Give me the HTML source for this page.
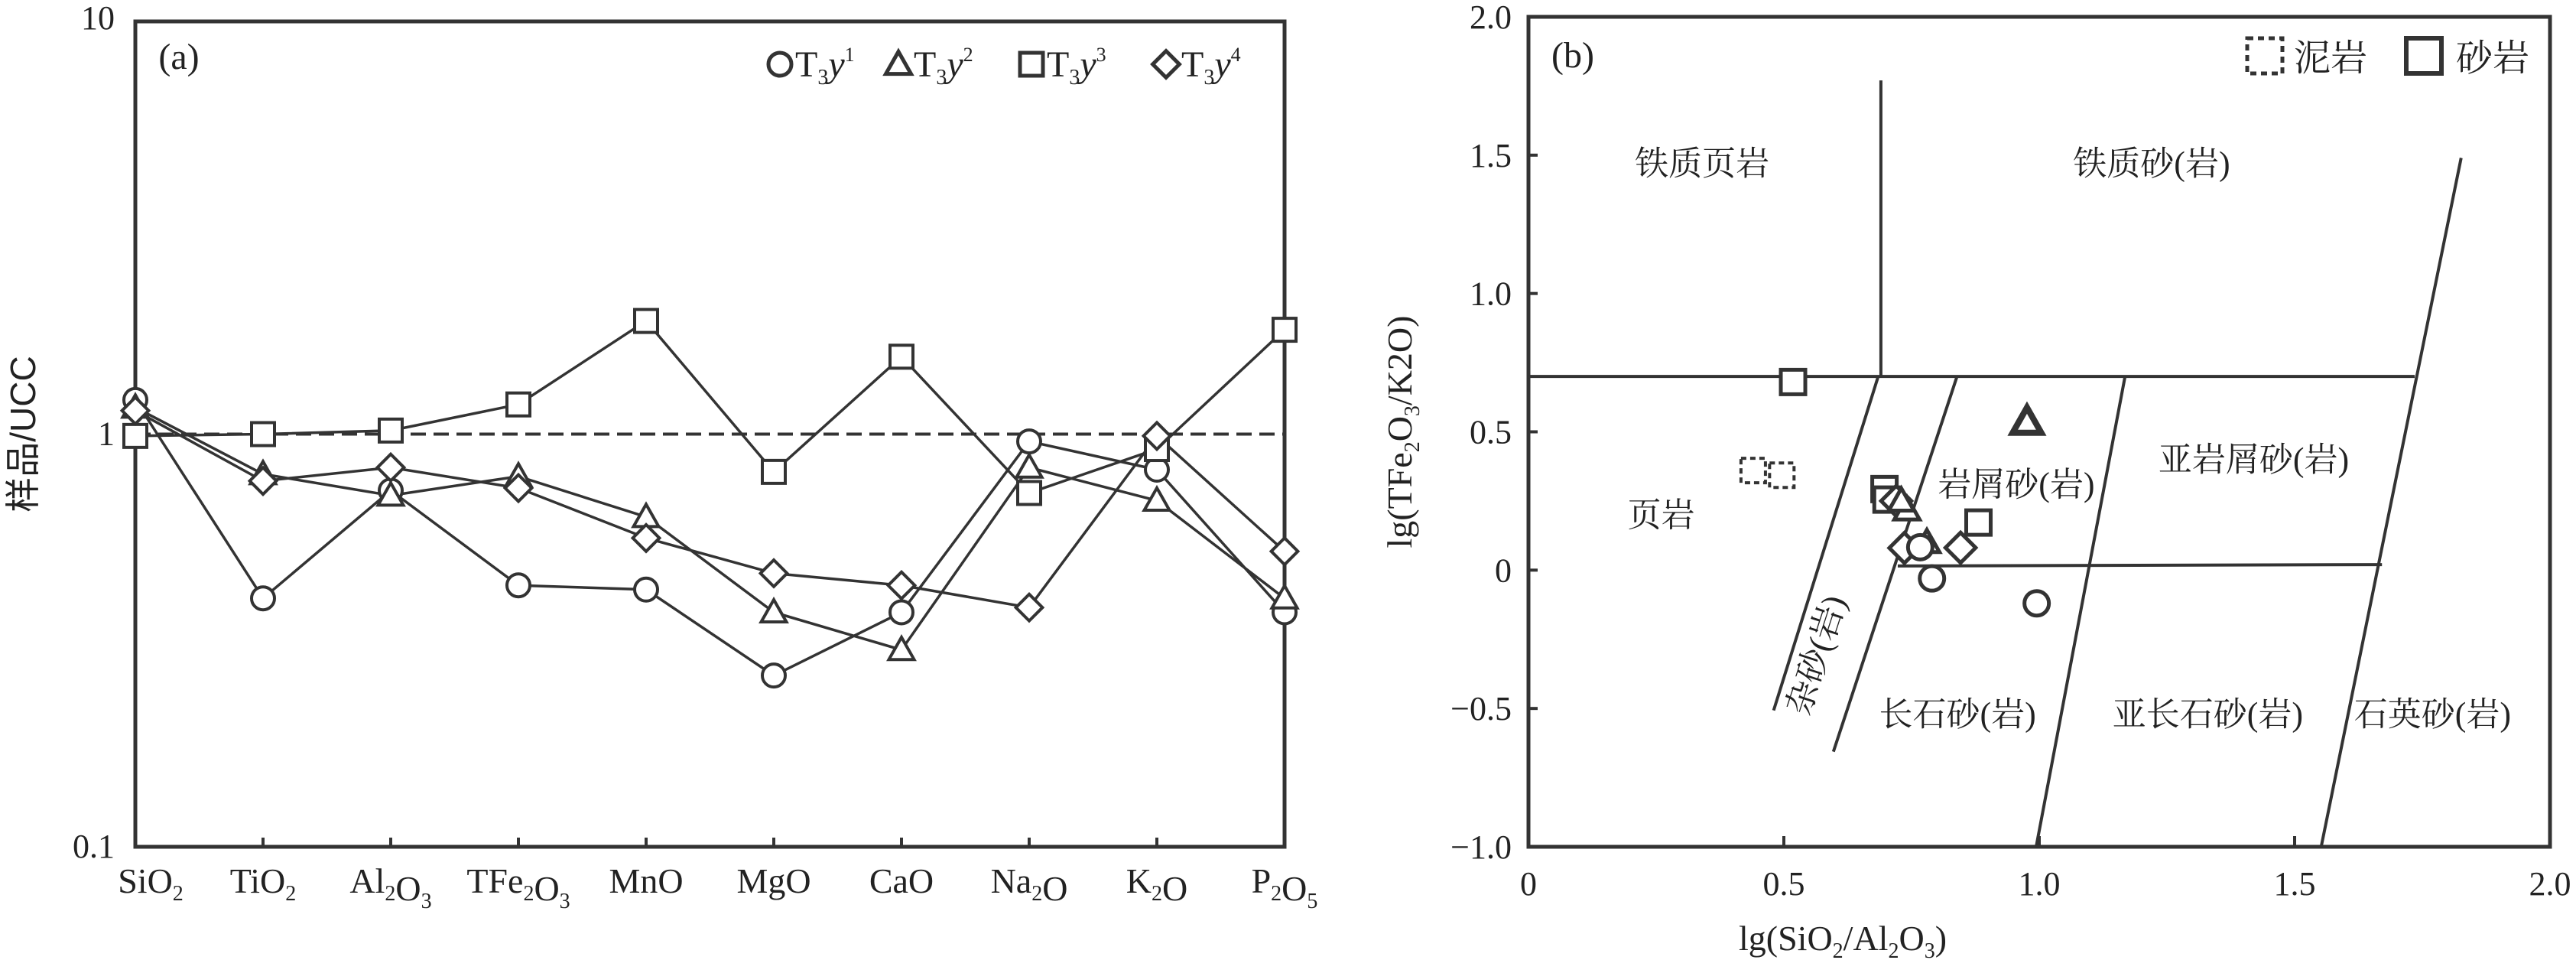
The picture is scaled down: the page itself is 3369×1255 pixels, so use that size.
<!DOCTYPE html>
<html><head><meta charset="utf-8"><style>
html,body{margin:0;padding:0;background:#fff;}
svg{display:block;font-family:"Liberation Serif","Noto Serif CJK SC",serif;}
</style></head><body>
<svg id="svg" width="3369" height="1255" viewBox="0 0 3369 1255" xmlns="http://www.w3.org/2000/svg">
<g id="pa"></g>
<g id="pb"></g>
</svg>
<script>
// ---------- Panel (a) data ----------
const categoriesA = ["SiO2","TiO2","Al2O3","TFe2O3","MnO","MgO","CaO","Na2O","K2O","P2O5"];
const seriesT3y1 = [1.21,0.40,0.73,0.43,0.42,0.26,0.37,0.96,0.82,0.37];
const seriesT3y2 = [1.16,0.80,0.71,0.79,0.63,0.37,0.30,0.83,0.69,0.40];
const seriesT3y3 = [0.99,1.00,1.02,1.18,1.88,0.81,1.54,0.72,0.92,1.79];
const seriesT3y4 = [1.14,0.77,0.83,0.74,0.56,0.46,0.43,0.38,0.99,0.52];
const yTicksA = [10,1,0.1];
const yTickLabelsA = ["10","1","0.1"];

// ---------- Panel (b) data ----------
const xTicksB = [0,0.5,1.0,1.5,2.0];
const xTickLabelsB = ["0","0.5","1.0","1.5","2.0"];
const yTicksB = [2.0,1.5,1.0,0.5,0,-0.5,-1.0];
const yTickLabelsB = ["2.0","1.5","1.0","0.5","0","\u22120.5","\u22121.0"];
const mudX = [0.44,0.496];
const mudY = [0.36,0.343];
const sqX = [0.518,0.697,0.701,0.881];
const sqY = [0.68,0.293,0.255,0.172];
const triX = [0.976,0.741,0.73,0.78];
const triY = [0.536,0.218,0.25,0.10];
const cirX = [0.767,0.79,0.995];
const cirY = [0.083,-0.03,-0.12];
const diaX = [0.736,0.846,0.72];
const diaY = [0.08,0.081,0.25];

const NS="http://www.w3.org/2000/svg";
const C="#333";
function mk(tag,attrs,parent){const e=document.createElementNS(NS,tag);for(const k in attrs)e.setAttribute(k,attrs[k]);parent.appendChild(e);return e;}
function marker(g,type,x,y,s,sw,dash){
  let e;
  if(type==="circle") e=mk("circle",{cx:x,cy:y,r:s*0.5,fill:"#fff",stroke:C,"stroke-width":sw},g);
  else if(type==="square") e=mk("rect",{x:x-s/2,y:y-s/2,width:s,height:s,fill:"#fff",stroke:C,"stroke-width":sw},g);
  else if(type==="triangle") e=mk("polygon",{points:`${x},${y-s*0.55} ${x-s*0.55},${y+s*0.42} ${x+s*0.55},${y+s*0.42}`,fill:"#fff",stroke:C,"stroke-width":sw},g);
  else e=mk("polygon",{points:`${x},${y-s*0.58} ${x+s*0.58},${y} ${x},${y+s*0.58} ${x-s*0.58},${y}`,fill:"#fff",stroke:C,"stroke-width":sw},g);
  if(dash) e.setAttribute("stroke-dasharray",dash);
  return e;
}
function txt(g,x,y,str,size,anchor,extra){const t=mk("text",Object.assign({x:x,y:y,"font-size":size,"text-anchor":anchor||"middle",fill:"#222"},extra||{}),g);t.innerHTML=str;return t;}

// ===== Panel A =====
const pa=document.getElementById("pa");
const AL=177,AR=1680,AT=28,AB=1107;
function xA(i){return AL+(AR-AL)*i/(categoriesA.length-1);}
function yA(v){return AT+(AB-AT)*(1-Math.log10(v))/2;}
const fA=mk("rect",{x:AL,y:AT,width:AR-AL,height:AB-AT,fill:"none",stroke:C,"stroke-width":5},pa);


yTicksA.forEach((v,i)=>{
  const t=txt(pa,AL-27,yA(v)+(i===0?10:14),yTickLabelsA[i],44,"end");
  
  
});
categoriesA.forEach((c,i)=>{
  const tk=mk("line",{x1:xA(i),y1:AB,x2:xA(i),y2:AB-12,stroke:C,"stroke-width":4},pa);
  
  
  const lab=c.replace(/(\d)/g,'<tspan font-size="28" dy="10">$1</tspan><tspan dy="-10"></tspan>');
  const t=txt(pa,xA(i)+(i===0?20:0),1167,lab,46,"middle");
  
  
});
const yt=txt(pa,0,0,"样品/UCC",46,"middle",{transform:`translate(46,${(AT+AB)/2}) rotate(-90)`,"font-family":"Liberation Sans,Noto Sans CJK SC,sans-serif"});


const la=txt(pa,234,90,"(a)",48,"middle");


const ref=mk("line",{x1:AL,y1:yA(1),x2:AR,y2:yA(1),stroke:C,"stroke-width":4,"stroke-dasharray":"20 10"},pa);


const seriesA=[["circle",seriesT3y1,"T3y1"],["triangle",seriesT3y2,"T3y2"],["square",seriesT3y3,"T3y3"],["diamond",seriesT3y4,"T3y4"]];
seriesA.forEach(([type,vals,name])=>{
  const pl=mk("polyline",{points:vals.map((v,i)=>xA(i)+","+yA(v)).join(" "),fill:"none",stroke:C,"stroke-width":3.5},pa);
  
  
});
seriesA.forEach(([type,vals,name])=>{
  vals.forEach((v,i)=>{
    const m=marker(pa,type,xA(i),yA(v),30,4);
    
    
  });
});
const legX=[1020,1175,1349,1525];
seriesA.forEach(([type,vals,name],k)=>{
  const m=marker(pa,type,legX[k],84,30,5);
  
  
  const t=txt(pa,legX[k]+20,100,`T<tspan font-size="28" dy="10">3</tspan><tspan dy="-10" font-style="italic">y</tspan><tspan font-size="26" dy="-20">${name[3]}</tspan>`,48,"start");
  
  
});

// ===== Panel B =====
const pb=document.getElementById("pb");
const BL=1999,BR=3335,BT=22,BB=1107;
function xB(v){return BL+(BR-BL)*v/2;}
function yB(v){return BT+(BB-BT)*(2-v)/3;}
const fB=mk("rect",{x:BL,y:BT,width:BR-BL,height:BB-BT,fill:"none",stroke:C,"stroke-width":5},pb);


xTicksB.forEach((v,i)=>{
  const tk=mk("line",{x1:xB(v),y1:BB,x2:xB(v),y2:BB-14,stroke:C,"stroke-width":4},pb);
  
  
  const t=txt(pb,xB(v),1170,xTickLabelsB[i],44,"middle");
  
  
});
yTicksB.forEach((v,i)=>{
  const tk=mk("line",{x1:BL,y1:yB(v),x2:BL+12,y2:yB(v),stroke:C,"stroke-width":4},pb);
  
  
  const t=txt(pb,BL-22,yB(v)+15,yTickLabelsB[i],44,"end");
  
  
});
const xtb=txt(pb,2410,1242,'lg(SiO<tspan font-size="28" dy="10">2</tspan><tspan dy="-10">/Al</tspan><tspan font-size="28" dy="10">2</tspan><tspan dy="-10">O</tspan><tspan font-size="28" dy="10">3</tspan><tspan dy="-10">)</tspan>',46,"middle");


const ytb=txt(pb,0,0,'lg(TFe<tspan font-size="28" dy="10">2</tspan><tspan dy="-10">O</tspan><tspan font-size="28" dy="10">3</tspan><tspan dy="-10">/K2O)</tspan>',46,"middle",{transform:`translate(1846,${(BT+BB)/2}) rotate(-90)`});


const lb=txt(pb,2057,88,"(b)",48,"middle");


// field boundaries (data coords)
const bx1=[0.69,0,0.48,0.597,0.994,1.552,0.723];
const by1=[1.77,0.7,-0.507,-0.656,-1.0,-1.0,0.015];
const bx2=[0.69,1.735,0.684,0.839,1.168,1.826,1.671];
const by2=[0.7,0.7,0.696,0.70,0.70,1.49,0.02];
bx1.forEach((v,i)=>{
  const l=mk("line",{x1:xB(v),y1:yB(by1[i]),x2:xB(bx2[i]),y2:yB(by2[i]),stroke:C,"stroke-width":4},pb);
  
  
});
const fields=[["铁质页岩",0.34,1.47],["铁质砂(岩)",1.22,1.47],["页岩",0.26,0.2],["岩屑砂(岩)",0.955,0.31],["亚岩屑砂(岩)",1.42,0.4],["长石砂(岩)",0.84,-0.52],["亚长石砂(岩)",1.33,-0.52],["石英砂(岩)",1.77,-0.52]];
fields.forEach(([s,x,y])=>{
  const t=txt(pb,xB(x),yB(y)+15,s,44,"middle");
  
  
});
const rz=txt(pb,0,0,"杂砂(岩)",44,"middle",{transform:`translate(${xB(0.585)},${yB(-0.32)}) rotate(-72)`});


mudX.forEach((v,i)=>{const m=marker(pb,"square",xB(v),yB(mudY[i]),32,4,"7 5");});
sqX.forEach((v,i)=>{const m=marker(pb,"square",xB(v),yB(sqY[i]),32,5);});
diaX.forEach((v,i)=>{const m=marker(pb,"diamond",xB(v),yB(diaY[i]),34,5);});
triX.forEach((v,i)=>{const m=marker(pb,"triangle",xB(v),yB(triY[i]),i===0?34:30,i===0?8:5);});
cirX.forEach((v,i)=>{const m=marker(pb,"circle",xB(v),yB(cirY[i]),32,5);});
const lm1=marker(pb,"square",2962,73,46,5,"8 6");


const lt1=txt(pb,3000,92,"泥岩",48,"start");


const lm2=marker(pb,"square",3170,73,46,6);


const lt2=txt(pb,3212,92,"砂岩",48,"start");


</script>
</body></html>
